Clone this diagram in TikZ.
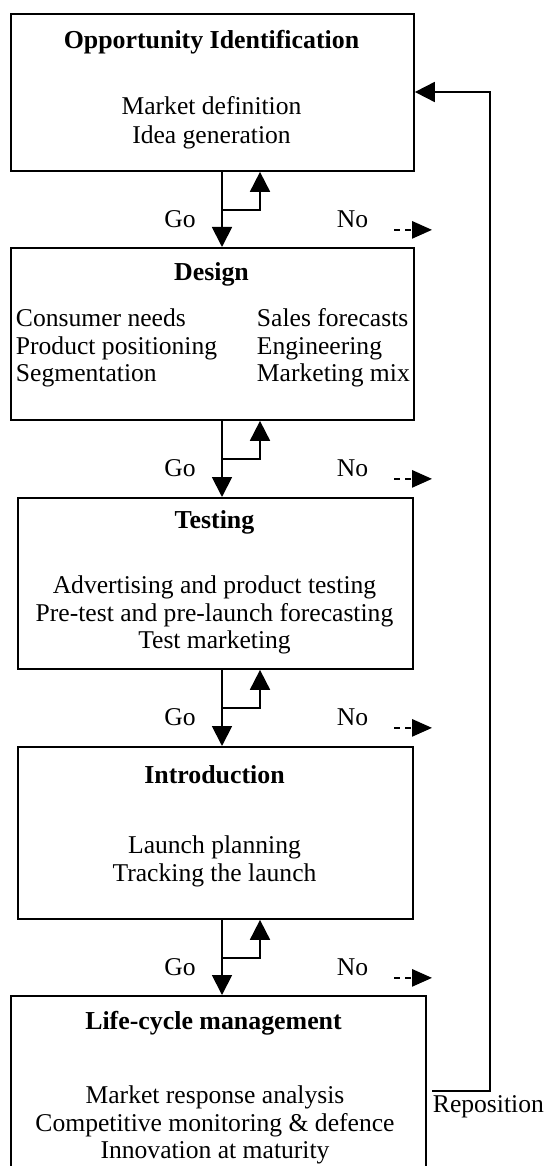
\documentclass[tikz,border=0pt]{standalone}
\usepackage{fontspec}
\setmainfont{Liberation Serif}
\usetikzlibrary{arrows.meta}

\begin{document}
\begin{tikzpicture}[x=0.75pt,y=-0.75pt,
  line width=1.4pt,
  stage/.style={draw,line width=1.4pt,rectangle,anchor=north west,inner sep=0pt},
  txt/.style={inner sep=0pt,font=\fontsize{19.2}{20.6}\selectfont,align=center},
  ttl/.style={inner sep=0pt,font=\fontsize{19.4}{20.6}\selectfont\bfseries,align=center},
  tip/.style={-{Triangle[length=15pt,width=15pt]}},
  notip/.style={-{Triangle[length=15pt,width=13pt]},dash pattern=on 4.5pt off 3.8pt}
]
\useasboundingbox (0,0) rectangle (550,1166);

% stage boxes
\node[stage,minimum width={403*0.75pt},minimum height={157*0.75pt}] (b1) at (10,13) {};
\node[stage,minimum width={403*0.75pt},minimum height={172*0.75pt}] (b2) at (10,247) {};
\node[stage,minimum width={395*0.75pt},minimum height={171*0.75pt}] (b3) at (17,497) {};
\node[stage,minimum width={395*0.75pt},minimum height={172*0.75pt}] (b4) at (17,746) {};
\node[stage,minimum width={415*0.75pt},minimum height={190*0.75pt}] (b5) at (10,995) {};

% box contents
\node[ttl] (t1) at (211.5,42) {Opportunity Identification};
\node[txt,font=\fontsize{19.2}{21.75}\selectfont] (c1) at (211.5,122.5) {Market definition\\Idea generation};

\node[ttl] (t2) at (211.5,274) {Design};
\node[txt,align=left,anchor=west] (c2l) at (15,348) {Consumer needs\\Product positioning\\Segmentation};
\node[txt,align=left,anchor=west] (c2r) at (256,348) {Sales forecasts\\Engineering\\Marketing mix};

\node[ttl] (t3) at (214.5,522) {Testing};
\node[txt] (c3) at (214.5,615) {Advertising and product testing\\Pre-test and pre-launch forecasting\\Test marketing};

\node[ttl] (t4) at (214.5,775) {Introduction};
\node[txt] (c4) at (214.5,861.5) {Launch planning\\Tracking the launch};

\node[ttl] (t5) at (213.5,1023) {Life-cycle management};
\node[txt] (c5) at (215,1125) {Market response analysis\\Competitive monitoring \& defence\\Innovation at maturity};

% connector columns
\coordinate (xd) at (222,0);
\coordinate (xu) at (260,0);
\coordinate (xn) at (394,0);

% go / back / no-go links between successive stages
\foreach \a/\b in {b1/b2,b2/b3,b3/b4,b4/b5}{
  \draw[tip] (\a.south -| xd) -- (\b.north -| xd);
  \draw[tip] (\a.south -| xd) ++(0,38) -| (\a.south -| xu);
  \draw[notip] (\a.south -| xn) ++(0,58) -- ++(38,0);
  \path (\a.south -| xd) ++(-42,47) node[txt] (go\a) {Go};
  \path (\a.south -| xd) ++(130.5,47) node[txt] (no\a) {No};
}

% reposition loop back to the first stage
\coordinate (rp) at (432,1091);
\coordinate (rx) at (490,92);
\draw[tip] (rp) -| (rx) -- (b1.east |- rx);
\node[txt,anchor=west] (rep) at (432,1107) {Reposition};
\end{tikzpicture}
\end{document}
